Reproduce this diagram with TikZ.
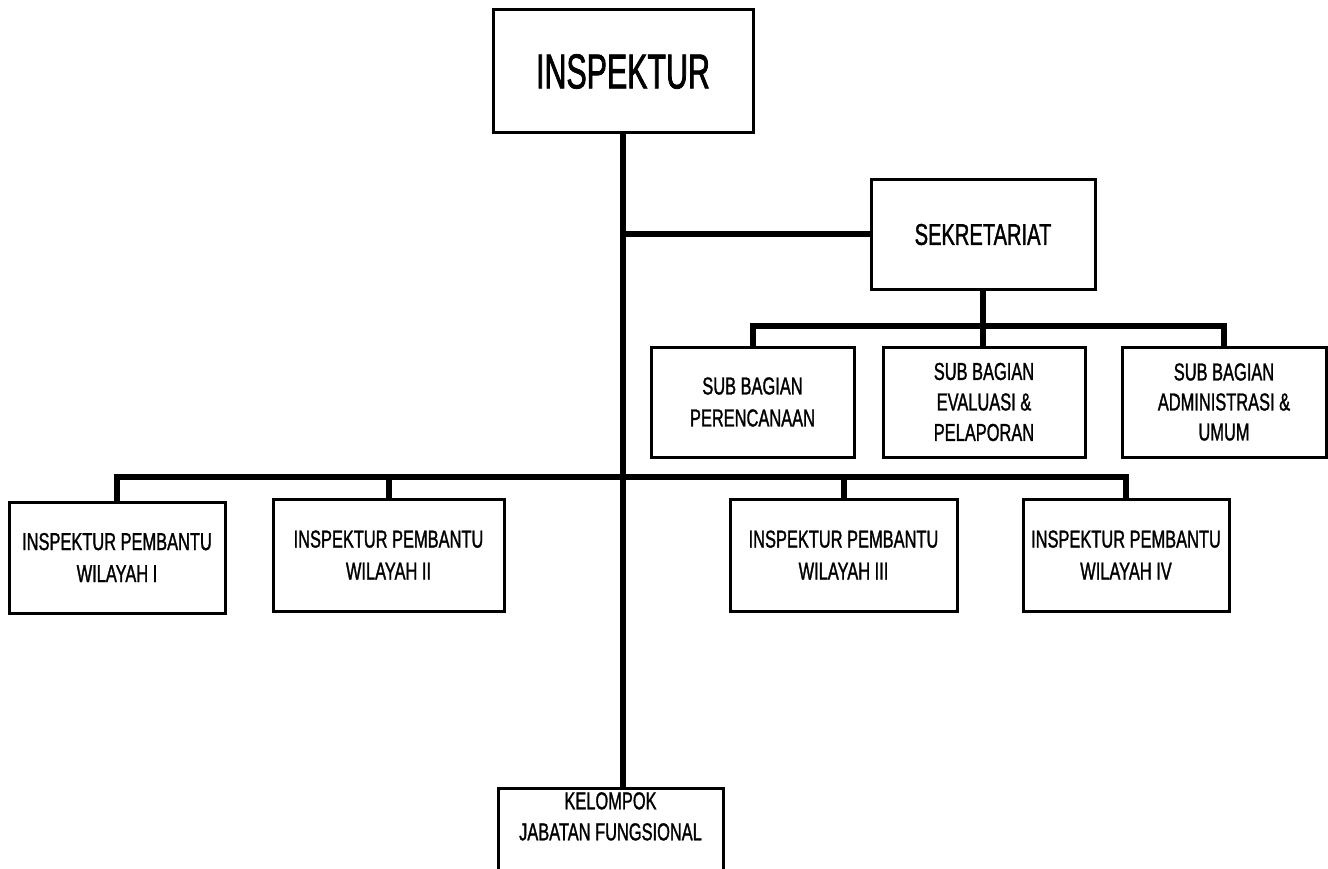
\documentclass[tikz,border=0pt]{standalone}
\usepackage{fontspec}
\setmainfont{Liberation Sans}[FakeStretch=0.67,FakeBold=1.2]
\newfontfamily\titlefont{Liberation Sans}[FakeStretch=0.62,FakeBold=1.5]
\begin{document}
\begin{tikzpicture}[x=1pt,y=-1pt,
  box/.style={draw, line width=3pt, inner sep=0pt, align=center,
    font=\fontsize{24.5}{32}\selectfont},
  conn/.style={line width=6pt}]
\clip (0,0) rectangle (1328,869);
\useasboundingbox (0,0) rectangle (1328,869);

% top
\node[box, minimum width=260pt, minimum height=123pt,
  font=\titlefont\fontsize{49}{56}\selectfont] (ins) at (623,71.5) {INSPEKTUR};
\node[box, minimum width=224pt, minimum height=109pt,
  font=\fontsize{30}{36}\selectfont] (sek) at (983,234.5) {SEKRETARIAT};

% sub bagian
\node[box, minimum width=203pt, minimum height=110pt] (s1) at (752.5,402) {SUB BAGIAN\\PERENCANAAN};
\node[box, minimum width=202pt, minimum height=110pt, font=\fontsize{24.5}{30.5}\selectfont] (s2) at (984,402) {SUB BAGIAN\\EVALUASI \&\\PELAPORAN};
\node[box, minimum width=204pt, minimum height=110pt, font=\fontsize{24.5}{30}\selectfont] (s3) at (1224,402) {SUB BAGIAN\\ADMINISTRASI \&\\UMUM};

% wilayah
\node[box, minimum width=216pt, minimum height=111pt] (w1) at (117,557.5) {INSPEKTUR PEMBANTU\\WILAYAH I};
\node[box, minimum width=231pt, minimum height=112pt] (w2) at (388.5,555) {INSPEKTUR PEMBANTU\\WILAYAH II};
\node[box, minimum width=227pt, minimum height=112pt] (w3) at (843.5,555) {INSPEKTUR PEMBANTU\\WILAYAH III};
\node[box, minimum width=206pt, minimum height=112pt] (w4) at (1126,555) {INSPEKTUR PEMBANTU\\WILAYAH IV};

% kelompok
\node[box, minimum width=225pt, minimum height=120pt, anchor=north] (kel) at (610.5,787) {};
\node[anchor=north, inner sep=0pt, align=center, font=\fontsize{24.5}{31}\selectfont]
  (keltext) at ([yshift=-5pt]kel.north) {KELOMPOK\\JABATAN FUNGSIONAL};

% connectors
\coordinate (sb) at (0,326);
\coordinate (wb) at (0,477);
\draw[conn] (ins.south) -- (ins.south |- kel.north);
\draw[conn] (ins.south |- sek.west) -- (sek.west);
\draw[conn] (sek.south) -- (sek.south |- s2.north);
\draw[conn] (s1.north) -- (s1.north |- sb) -- (s3.north |- sb) -- (s3.north);
\draw[conn] (w1.north) -- (w1.north |- wb) -- (w4.north |- wb) -- (w4.north);
\draw[conn] (w2.north) -- (w2.north |- wb);
\draw[conn] (w3.north) -- (w3.north |- wb);
\end{tikzpicture}
\end{document}
